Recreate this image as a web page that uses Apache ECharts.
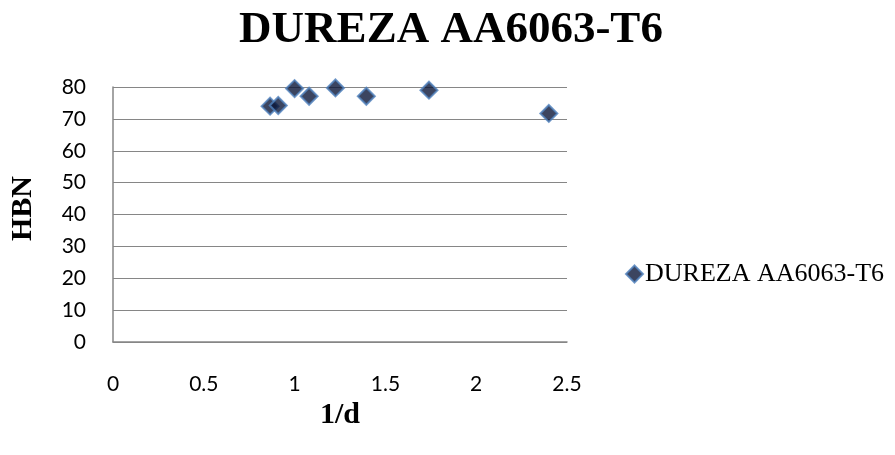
<!DOCTYPE html>
<html>
<head>
<meta charset="utf-8">
<script src="https://cdn.jsdelivr.net/npm/echarts@6/dist/echarts.min.js"></script>
<style>
html, body { margin: 0; padding: 0; background: #fff; }
#chart { width: 895px; height: 455px; }
</style>
</head>
<body>
<div id="chart"></div>
<script>
// 1/d vs HBN
var xData = [0.865, 0.91, 1.0, 1.08, 1.225, 1.395, 1.74, 2.40];
var yData = [74.0, 74.2, 79.5, 77.1, 79.7, 77.1, 79.0, 71.7];
var seriesName = 'DUREZA AA6063-T6';

var points = [];
for (var i = 0; i < xData.length; i++) {
    points.push([xData[i], yData[i]]);
}

var chart = echarts.init(document.getElementById('chart'));
var option = {
    animation: false,
    title: {
        text: 'DUREZA AA6063-T6',
        left: 446,
        textAlign: 'center',
        top: 3,
        textStyle: {
            fontFamily: 'Liberation Serif',
            fontWeight: 'bold',
            fontSize: 45,
            color: '#000'
        }
    },
    legend: {
        data: [seriesName],
        left: 620,
        top: 256,
        icon: 'diamond',
        itemWidth: 17,
        itemHeight: 17,
        textStyle: {
            fontFamily: 'Liberation Serif',
            fontSize: 26,
            color: '#000',
            padding: [0, 0, 0, -3]
        }
    },
    grid: {
        left: 113,
        right: 328,
        top: 87,
        bottom: 113
    },
    xAxis: {
        type: 'value',
        min: 0,
        max: 2.5,
        interval: 0.5,
        name: '1/d',
        nameLocation: 'middle',
        nameGap: 50,
        nameTextStyle: {
            fontFamily: 'Liberation Serif',
            fontWeight: 'bold',
            fontSize: 30,
            color: '#000'
        },
        axisLine: { lineStyle: { color: '#868686', width: 1.5 } },
        axisTick: { show: false },
        axisLabel: {
            margin: 32,
            fontFamily: 'Lato',
            fontSize: 21,
            color: '#000',
            formatter: function (v) { return String(v); }
        },
        splitLine: { show: false }
    },
    yAxis: {
        type: 'value',
        min: 0,
        max: 80,
        interval: 10,
        name: 'HBN',
        nameLocation: 'middle',
        nameGap: 75,
        nameRotate: 90,
        nameTextStyle: {
            fontFamily: 'Liberation Serif',
            fontWeight: 'bold',
            fontSize: 30,
            color: '#000',
            padding: [0, 0, 0, 12]
        },
        axisLine: { show: true, lineStyle: { color: '#868686', width: 1.5 } },
        axisTick: { show: false },
        axisLabel: {
            margin: 27,
            fontFamily: 'Lato',
            fontSize: 21,
            color: '#000'
        },
        splitLine: { lineStyle: { color: '#868686', width: 1.2 } }
    },
    series: [
        {
            name: seriesName,
            type: 'scatter',
            symbol: 'diamond',
            symbolSize: 17,
            data: points,
            itemStyle: {
                color: '#0b1738',
                borderColor: '#4f81bd',
                borderWidth: 2
            }
        }
    ]
};
chart.setOption(option);
</script>
</body>
</html>
